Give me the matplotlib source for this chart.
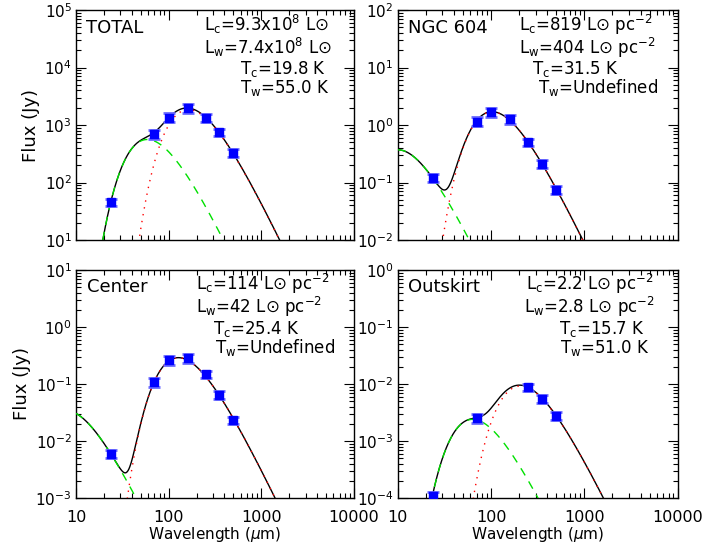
import numpy as np
import matplotlib
matplotlib.use('Agg')
import matplotlib.pyplot as plt
from matplotlib.ticker import LogLocator, FixedLocator, NullFormatter, FuncFormatter

# photometry bands (micron)
bands = [24, 70, 100, 160, 250, 350, 500]
err_frac = [0.15, 0.18, 0.18, 0.18, 0.15, 0.15, 0.15]

# fluxes (Jy); None = no point
flux_total = [45, 700, 1350, 1950, 1350, 750, 330]
flux_ngc604 = [0.12, 1.15, 1.65, 1.25, 0.50, 0.21, 0.075]
flux_center = [0.0060, 0.11, 0.26, 0.29, 0.15, 0.065, 0.023]
flux_outskirt = [1.1e-4, 2.5e-3, None, None, 8.8e-3, 5.5e-3, 2.8e-3]

# two modified blackbody components: temperature (K) and peak flux (Jy)
t_cold = [19.8, 31.5, 25.4, 15.7]
peak_cold = [1850, 1.70, 0.29, 0.0092]
t_warm = [55.0, 320.0, 410.0, 51.0]
peak_warm = [560, 0.37, 0.034, 0.0024]
beta = 1.5

names = ['TOTAL', 'NGC 604', 'Center', 'Outskirt']
lines_txt = [
    ['L$_\\mathrm{c}$=9.3x10$^8$ L\u2299', 'L$_\\mathrm{w}$=7.4x10$^8$ L\u2299',
     'T$_\\mathrm{c}$=19.8 K', 'T$_\\mathrm{w}$=55.0 K'],
    ['L$_\\mathrm{c}$=819 L\u2299 pc$^{-2}$', 'L$_\\mathrm{w}$=404 L\u2299 pc$^{-2}$',
     'T$_\\mathrm{c}$=31.5 K', 'T$_\\mathrm{w}$=Undefined'],
    ['L$_\\mathrm{c}$=114 L\u2299 pc$^{-2}$', 'L$_\\mathrm{w}$=42 L\u2299 pc$^{-2}$',
     'T$_\\mathrm{c}$=25.4 K', 'T$_\\mathrm{w}$=Undefined'],
    ['L$_\\mathrm{c}$=2.2 L\u2299 pc$^{-2}$', 'L$_\\mathrm{w}$=2.8 L\u2299 pc$^{-2}$',
     'T$_\\mathrm{c}$=15.7 K', 'T$_\\mathrm{w}$=51.0 K'],
]
ylims = [(1e1, 1e5), (1e-2, 1e2), (1e-3, 1e1), (1e-4, 1e0)]
fluxes = [flux_total, flux_ngc604, flux_center, flux_outskirt]

W, H = 722, 546
# axes boxes in pixels: left, top, right, bottom
boxes = [(76, 10, 354, 240), (397.7, 10, 677.7, 240),
         (76, 270, 354, 498), (397.7, 270, 677.7, 498)]
# text positions (left x, baseline y) in pixels
name_pos = [(86, 33), (408, 33), (87, 292), (408, 292)]
txt_pos = [
    [(204, 31), (204, 54), (240, 74), (240, 93)],
    [(519, 31), (519, 54), (532, 74), (538, 93)],
    [(196, 290), (196, 313), (213, 334), (215, 353)],
    [(526, 290), (524, 313), (559, 334), (560, 353)],
]

plt.rcParams['font.family'] = ['DejaVu Sans']
plt.rcParams['mathtext.fontset'] = 'dejavusans'

HC_K = 14387.77  # micron K
XP = 4.447       # peak of nu^(3+beta)/(e^x-1) for beta=1.5


def mbb(lam, T, peak):
    f = lambda l: l ** -(3 + beta) / np.expm1(HC_K / (l * T))
    lam_p = HC_K / (XP * T)
    return peak * f(lam) / f(lam_p)


lam = np.logspace(1, 4, 600)

fig = plt.figure(figsize=(W / 100, H / 100), dpi=100)

for i in range(4):
    l, t, r, b = boxes[i]
    ax = fig.add_axes([l / W, 1 - b / H, (r - l) / W, (b - t) / H])
    ax.set_xscale('log')
    ax.set_yscale('log')

    cold = mbb(lam, t_cold[i], peak_cold[i])
    warm = mbb(lam, t_warm[i], peak_warm[i])
    ax.plot(lam, cold + warm, color='black', lw=1.0, zorder=2)
    ax.plot(lam, warm, color='#00e000', lw=1.0, ls=(0, (6, 5)), zorder=3)
    ax.plot(lam, cold, color='red', lw=1.0, ls=(0, (1, 4)), zorder=3)

    xs = [w for w, f in zip(bands, fluxes[i]) if f is not None]
    ys = [f for f in fluxes[i] if f is not None]
    es = [e * f for e, f in zip(err_frac, fluxes[i]) if f is not None]
    ax.errorbar(xs, ys, yerr=es, fmt='none', ecolor='#6a6aff', elinewidth=1.0,
                capsize=4.5, capthick=2.0, zorder=4)
    ax.plot(xs, ys, 's', color='#0000ff', ms=6, mec='#0000ff', zorder=5)

    ax.set_xlim(10, 10000)
    ax.set_ylim(*ylims[i])

    ax.xaxis.set_major_locator(FixedLocator([10, 100, 1000, 10000]))
    ax.xaxis.set_minor_locator(LogLocator(base=10, subs=np.arange(2, 10), numticks=20))
    ax.yaxis.set_major_locator(LogLocator(base=10, numticks=20))
    ax.yaxis.set_minor_locator(LogLocator(base=10, subs=np.arange(2, 10), numticks=20))
    ax.xaxis.set_minor_formatter(NullFormatter())
    ax.yaxis.set_minor_formatter(NullFormatter())
    ax.yaxis.set_major_formatter(FuncFormatter(lambda v, p: '10$^{%d}$' % round(np.log10(v))))
    if i >= 2:
        ax.xaxis.set_major_formatter(FuncFormatter(lambda v, p: '%d' % round(v)))
        ax.set_xlabel('Wavelength ($\\mu$m)', fontsize=11, labelpad=0)
    else:
        ax.xaxis.set_major_formatter(NullFormatter())
    if i % 2 == 0:
        ax.set_ylabel('Flux (Jy)', fontsize=13, labelpad=3)

    ax.tick_params(which='both', direction='in', top=True, right=True, width=0.8)
    ax.tick_params(axis='x', which='major', labelsize=11.5, pad=9)
    ax.tick_params(axis='y', which='major', labelsize=11, pad=3)
    ax.tick_params(which='major', length=7)
    ax.tick_params(which='minor', length=3.5)
    for s in ax.spines.values():
        s.set_linewidth(1.0)

    nx, ny = name_pos[i]
    fig.text(nx / W, 1 - ny / H, names[i], fontsize=13, va='baseline', ha='left')
    for (tx, ty), s in zip(txt_pos[i], lines_txt[i]):
        fig.text(tx / W, 1 - ty / H, s, fontsize=12, va='baseline', ha='left')

fig.savefig('out.png', dpi=100)
